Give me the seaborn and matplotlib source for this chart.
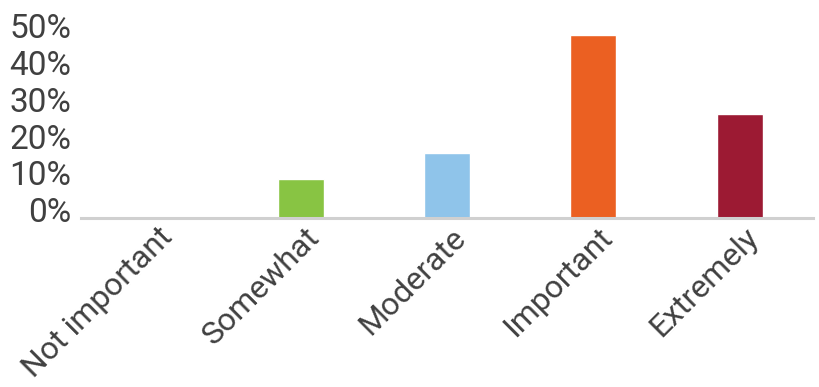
import seaborn as sns
import matplotlib.pyplot as plt
import matplotlib.transforms as mtrans
import pandas as pd

categories = ["Not important", "Somewhat", "Moderate", "Important", "Extremely"]
shares = [0.0, 10.5, 17.6, 49.5, 28.1]
bar_colors = ["#BDBDBD", "#88C443", "#8FC4EA", "#EB6022", "#9C1A33"]
y_ticks = [0, 10, 20, 30, 40, 50]
y_labels = ["0%", "10%", "20%", "30%", "40%", "50%"]

df = pd.DataFrame({"level": categories, "share": shares})

sns.set_style("white")
plt.rcParams["font.family"] = ["Roboto", "DejaVu Sans"]

fig = plt.figure(figsize=(8.2, 3.87), dpi=100)
ax = fig.add_axes([0.0988, 0.4367, 0.8927, 0.478])

sns.barplot(data=df, x="level", y="share", hue="level", palette=bar_colors,
            width=0.314, legend=False, ax=ax, saturation=1)

ax.set_xlim(-0.5, 4.5)
ax.set_ylim(0, 50)
ax.set_yticks(y_ticks)
ax.set_yticklabels(y_labels)
ax.set_xlabel("")
ax.set_ylabel("")

for s in ["top", "right", "left"]:
    ax.spines[s].set_visible(False)
ax.spines["bottom"].set_color("#D0D0D0")
ax.spines["bottom"].set_linewidth(2.2)

ax.tick_params(axis="both", length=0, colors="#404040")
ax.tick_params(axis="y", pad=7, labelsize=24)
ax.tick_params(axis="x", labelsize=23)

# y labels sit a bit above their ticks
shift_y = mtrans.ScaledTranslation(0, 8 / 100, fig.dpi_scale_trans)
for lab in ax.get_yticklabels():
    lab.set_transform(lab.get_transform() + shift_y)

shift_x = mtrans.ScaledTranslation(14 / 100, -10 / 100, fig.dpi_scale_trans)
for lab in ax.get_xticklabels():
    lab.set_rotation(45)
    lab.set_ha("right")
    lab.set_va("center")
    lab.set_rotation_mode("anchor")
    lab.set_transform(lab.get_transform() + shift_x)

fig.savefig("out.png", dpi=100)
